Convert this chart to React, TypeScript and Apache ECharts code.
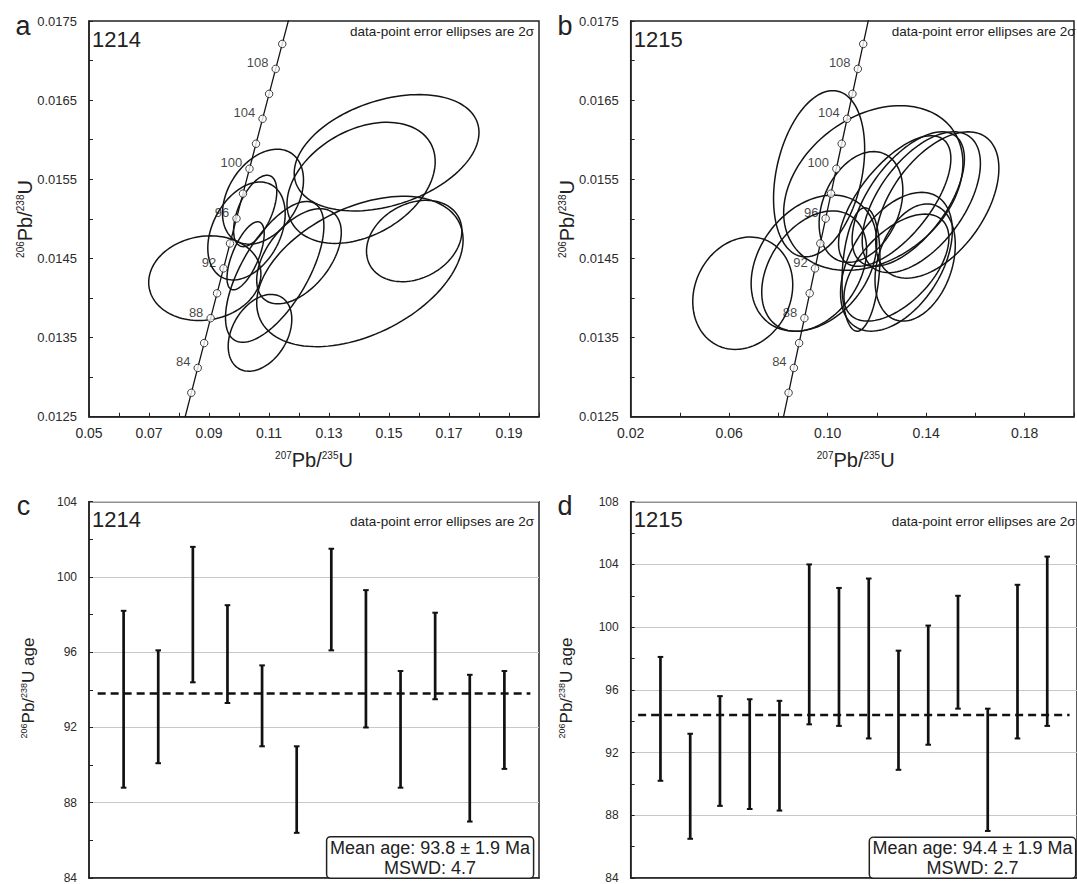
import React, { useEffect, useRef } from 'react';
import * as echarts from 'echarts';

const FONT = '"Liberation Sans", Arial, Helvetica, sans-serif';
const INK = '#141414';

// Concordia reference points (age in Ma, 207Pb/235U, 206Pb/238U)
const concordiaAges = [80, 82, 84, 86, 88, 90, 92, 94, 96, 98, 100, 102, 104, 106, 108, 110, 112];
const concordiaX = [0.081975, 0.084108, 0.086246, 0.088387, 0.090533, 0.092683, 0.094838, 0.096996, 0.099159, 0.101326, 0.103498, 0.105674, 0.107854, 0.110038, 0.112226, 0.114419, 0.116617];
const concordiaY = [0.012487, 0.012802, 0.013116, 0.013430, 0.013745, 0.014059, 0.014374, 0.014689, 0.015004, 0.015319, 0.015633, 0.015949, 0.016264, 0.016579, 0.016895, 0.017210, 0.017526];
const markerAges = [82, 84, 86, 88, 90, 92, 94, 96, 98, 100, 102, 104, 106, 108, 110];
const labeledAges = [84, 88, 92, 96, 100, 104, 108];

// Sample 1214 error ellipses (2 sigma): centre, half-widths, correlation
const e1214Cx = [0.1492, 0.1407, 0.1403, 0.1584, 0.1080, 0.1054, 0.1025, 0.0886, 0.1022, 0.1119, 0.1200, 0.1070];
const e1214Cy = [0.015835, 0.015455, 0.014335, 0.014720, 0.015280, 0.015100, 0.014847, 0.014250, 0.014533, 0.014330, 0.014527, 0.013560];
const e1214Sx = [0.0308, 0.0247, 0.0344, 0.0159, 0.0135, 0.0072, 0.0129, 0.0187, 0.0062, 0.0164, 0.0141, 0.0106];
const e1214Sy = [0.000735, 0.000765, 0.000950, 0.000514, 0.000600, 0.000451, 0.000619, 0.000535, 0.000430, 0.000890, 0.000601, 0.000485];
const e1214Rho = [0.35, 0.35, 0.42, 0.25, 0.35, 0.55, 0.35, 0.10, 0.65, 0.65, 0.50, 0.35];

// Sample 1215 error ellipses
const e1215Cx = [0.0655, 0.0944, 0.0945, 0.0965, 0.1185, 0.1135, 0.1445, 0.1380, 0.1327, 0.1272, 0.1279, 0.1279, 0.1355, 0.1135];
const e1215Cy = [0.014060, 0.014440, 0.014340, 0.015570, 0.015390, 0.015150, 0.015175, 0.015210, 0.015250, 0.015225, 0.014458, 0.014384, 0.014448, 0.014360];
const e1215Sx = [0.0203, 0.0255, 0.0213, 0.0185, 0.0364, 0.0170, 0.0250, 0.0240, 0.0228, 0.0228, 0.0227, 0.0213, 0.0163, 0.0077];
const e1215Sy = [0.000710, 0.000860, 0.000760, 0.001050, 0.001040, 0.000700, 0.000925, 0.000890, 0.000850, 0.000825, 0.000877, 0.000676, 0.000740, 0.000780];
const e1215Rho = [0.15, 0.30, 0.35, 0.30, 0.30, 0.30, 0.50, 0.55, 0.60, 0.65, 0.45, 0.55, 0.30, 0.20];

// 206Pb/238U ages with 2 sigma errors (low / high ends)
const age1214Low = [88.8, 90.1, 94.4, 93.3, 91.0, 86.4, 96.1, 92.0, 88.8, 93.5, 87.0, 89.8];
const age1214High = [98.2, 96.1, 101.6, 98.5, 95.3, 91.0, 101.5, 99.3, 95.0, 98.1, 94.8, 95.0];
const age1215Low = [90.2, 86.5, 88.6, 88.4, 88.3, 93.8, 93.7, 92.9, 90.9, 92.5, 94.8, 87.0, 92.9, 93.7];
const age1215High = [98.1, 93.2, 95.6, 95.4, 95.3, 104.0, 102.5, 103.1, 98.5, 100.1, 102.0, 94.8, 102.7, 104.5];
const mean1214 = 93.8;
const mean1215 = 94.4;

const PLOT_A = { left: 89, top: 21, width: 450, height: 395.7 };
const PLOT_B = { left: 630.7, top: 21, width: 450, height: 395.7 };
const PLOT_C = { left: 89, top: 501.7, width: 450, height: 380 };
const PLOT_D = { left: 630.7, top: 501.7, width: 450, height: 380 };

function ellipseRows(cx: number[], cy: number[], sx: number[], sy: number[], rho: number[]) {
  return cx.map((_, i) => [cx[i], cy[i], sx[i], sy[i], rho[i]]);
}

function ellipseRender(params: any, api: any) {
  const cx = api.value(0), cy = api.value(1), sx = api.value(2), sy = api.value(3), r = api.value(4);
  const k = Math.sqrt(1 - r * r);
  const pts: number[][] = [];
  const N = 120;
  for (let i = 0; i < N; i++) {
    const t = (i / N) * Math.PI * 2;
    const x = cx + sx * Math.cos(t);
    const y = cy + sy * (r * Math.cos(t) + k * Math.sin(t));
    pts.push(api.coord([x, y]));
  }
  return { type: 'polygon', shape: { points: pts }, style: { fill: 'none', stroke: INK, lineWidth: 1.5 } };
}

function errorBarRender(params: any, api: any) {
  const x = api.value(0);
  const lo = api.coord([x, api.value(1)]);
  const hi = api.coord([x, api.value(2)]);
  const cap = 2.8;
  return {
    type: 'group',
    children: [
      { type: 'line', shape: { x1: lo[0], y1: lo[1], x2: hi[0], y2: hi[1] }, style: { stroke: '#111', lineWidth: 2.7 } },
      { type: 'line', shape: { x1: hi[0] - cap, y1: hi[1], x2: hi[0] + cap, y2: hi[1] }, style: { stroke: '#111', lineWidth: 2 } },
      { type: 'line', shape: { x1: lo[0] - cap, y1: lo[1], x2: lo[0] + cap, y2: lo[1] }, style: { stroke: '#111', lineWidth: 2 } },
    ],
  };
}

const axisLineStyle = { color: '#222', width: 1.5 };
const tickStyle = { color: '#222', width: 1 };

function ratioXAxis(gridIndex: number, min: number, interval: number, showMod: number, showRem: number) {
  return {
    type: 'value', gridIndex, min, max: 0.2, interval,
    axisLine: { show: true, lineStyle: axisLineStyle },
    axisTick: { show: true, inside: true, length: 4, lineStyle: tickStyle },
    axisLabel: {
      fontSize: 14, fontFamily: FONT, color: '#2a2a2a', margin: 9,
      formatter: (v: number) => (Math.round(v * 100) % showMod === showRem ? v.toFixed(2) : ''),
    },
    splitLine: { show: false },
  };
}

function ratioYAxis(gridIndex: number) {
  return {
    type: 'value', gridIndex, min: 0.0125, max: 0.0175, interval: 0.0005,
    axisLine: { show: true, lineStyle: axisLineStyle },
    axisTick: { show: true, inside: true, length: 4, lineStyle: tickStyle },
    axisLabel: {
      fontSize: 13, fontFamily: FONT, color: '#2a2a2a', margin: 12,
      formatter: (v: number) => (Math.round(v * 10000) % 10 === 5 ? v.toFixed(4) : ''),
    },
    splitLine: { show: false },
  };
}

function ageYAxis(gridIndex: number, max: number) {
  return {
    type: 'value', gridIndex, min: 84, max, interval: 4,
    axisLine: { show: true, lineStyle: axisLineStyle },
    axisTick: { show: true, inside: true, length: 4, lineStyle: tickStyle },
    minorTick: { show: true, splitNumber: 2, length: 4, lineStyle: tickStyle },
    axisLabel: { fontSize: 12, fontFamily: FONT, color: '#2a2a2a', margin: 12 },
    splitLine: { show: true, lineStyle: { color: '#c8c8c8', width: 1 } },
  };
}

function indexXAxis(gridIndex: number, max: number) {
  return {
    type: 'value', gridIndex, min: 0, max,
    axisLine: { show: true, lineStyle: axisLineStyle },
    axisTick: { show: false }, axisLabel: { show: false }, splitLine: { show: false },
  };
}

function concordiaSeries(idx: number) {
  const line = concordiaAges.map((a, i) => [concordiaX[i], concordiaY[i]]);
  const marks = concordiaAges
    .map((a, i) => [concordiaX[i], concordiaY[i], a])
    .filter((d) => markerAges.includes(d[2]));
  return [
    {
      type: 'line', xAxisIndex: idx, yAxisIndex: idx, data: line, showSymbol: false, symbol: 'none',
      lineStyle: { color: INK, width: 1.3 }, z: 3, clip: true, silent: true,
    },
    {
      type: 'scatter', xAxisIndex: idx, yAxisIndex: idx, data: marks, symbol: 'circle', symbolSize: 7.5,
      itemStyle: { color: '#fff', borderColor: INK, borderWidth: 1 }, z: 4,
      label: {
        show: true, position: 'left', distance: 3, offset: [0, -6], fontSize: 13, fontFamily: FONT,
        color: '#111', textBorderWidth: 0,
        formatter: (p: any) => (labeledAges.includes(p.value[2]) ? String(p.value[2]) : ''),
      },
    },
  ];
}

function ellipseSeries(idx: number, rows: number[][]) {
  return {
    type: 'custom', xAxisIndex: idx, yAxisIndex: idx, data: rows, renderItem: ellipseRender,
    encode: { x: 0, y: 1 }, clip: true, z: 2, silent: true,
  };
}

function barSeries(idx: number, lo: number[], hi: number[]) {
  return {
    type: 'custom', xAxisIndex: idx, yAxisIndex: idx,
    data: lo.map((v, i) => [i + 1, v, hi[i]]), renderItem: errorBarRender,
    encode: { x: 0, y: [1, 2] }, z: 3, silent: true,
  };
}

function meanSeries(idx: number, n: number, mean: number) {
  return {
    type: 'line', xAxisIndex: idx, yAxisIndex: idx, data: [[0.25, mean], [n + 0.75, mean]],
    symbol: 'none', lineStyle: { color: '#111', width: 2.5, type: [8, 5] }, z: 4, silent: true,
  };
}

const supRich = (main: number, sup: number) => ({
  m: { fontSize: main, fontFamily: FONT, fill: '#222', verticalAlign: 'bottom' },
  s: { fontSize: sup, fontFamily: FONT, fill: '#222', verticalAlign: 'top' },
});

function txt(x: number, y: number, text: string, size: number, align: string) {
  return {
    type: 'text', x, y, z: 50,
    style: { text, fontSize: size, fontFamily: FONT, fill: '#222', align, verticalAlign: 'middle' },
  };
}

function richTxt(x: number, y: number, text: string, main: number, sup: number, rotation = 0) {
  return {
    type: 'text', x, y, rotation, z: 50,
    style: { text, rich: supRich(main, sup), align: 'center', verticalAlign: 'middle', fontFamily: FONT, fill: '#222' },
  };
}

function meanBox(left: number, top: number, w: number, h: number, l1: string, l2: string) {
  const cx = left + w / 2;
  return {
    type: 'group', z: 60,
    children: [
      { type: 'rect', shape: { x: left, y: top, width: w, height: h, r: 4 }, style: { fill: '#fff', stroke: '#222', lineWidth: 1.5 }, z: 60 },
      { type: 'text', x: cx, y: top + 11, z: 61, style: { text: l1, fontSize: 18, fontFamily: FONT, fill: '#222', align: 'center', verticalAlign: 'middle' } },
      { type: 'text', x: cx, y: top + 31, z: 61, style: { text: l2, fontSize: 18, fontFamily: FONT, fill: '#222', align: 'center', verticalAlign: 'middle' } },
    ],
  };
}

export default function App() {
  const ref = useRef<HTMLDivElement>(null);
  useEffect(() => {
    if (!ref.current) return;
    const chart = echarts.init(ref.current, null, { renderer: 'svg' });
    const gridBase = { show: true, borderColor: '#222', borderWidth: 1.5, backgroundColor: 'transparent', containLabel: false };
    const option: any = {
      animation: false,
      backgroundColor: '#fff',
      grid: [
        { ...gridBase, ...PLOT_A },
        { ...gridBase, ...PLOT_B },
        { ...gridBase, ...PLOT_C },
        { ...gridBase, ...PLOT_D },
      ],
      xAxis: [
        ratioXAxis(0, 0.05, 0.01, 2, 1),
        ratioXAxis(1, 0.02, 0.02, 4, 2),
        indexXAxis(2, age1214Low.length + 1),
        indexXAxis(3, age1215Low.length + 1),
      ],
      yAxis: [ratioYAxis(0), ratioYAxis(1), ageYAxis(2, 104), ageYAxis(3, 108)],
      series: [
        ellipseSeries(0, ellipseRows(e1214Cx, e1214Cy, e1214Sx, e1214Sy, e1214Rho)),
        ...concordiaSeries(0),
        ellipseSeries(1, ellipseRows(e1215Cx, e1215Cy, e1215Sx, e1215Sy, e1215Rho)),
        ...concordiaSeries(1),
        barSeries(2, age1214Low, age1214High),
        meanSeries(2, age1214Low.length, mean1214),
        barSeries(3, age1215Low, age1215High),
        meanSeries(3, age1215Low.length, mean1215),
      ],
      graphic: [
        txt(23, 25.6, 'a', 27, 'center'),
        txt(565, 25.6, 'b', 27, 'center'),
        txt(23.5, 506.3, 'c', 27, 'center'),
        txt(565, 506.3, 'd', 27, 'center'),
        txt(PLOT_A.left + 3, 39, '1214', 22, 'left'),
        txt(PLOT_B.left + 3, 39, '1215', 22, 'left'),
        txt(PLOT_C.left + 3, 519, '1214', 22, 'left'),
        txt(PLOT_D.left + 3, 519, '1215', 22, 'left'),
        txt(534, 31, 'data-point error ellipses are 2σ', 13.5, 'right'),
        txt(1075.7, 31, 'data-point error ellipses are 2σ', 13.5, 'right'),
        txt(534, 521, 'data-point error ellipses are 2σ', 13.5, 'right'),
        txt(1075.7, 521, 'data-point error ellipses are 2σ', 13.5, 'right'),
        richTxt(314, 460, '{s|207}{m|Pb/}{s|235}{m|U}', 20, 10),
        richTxt(855.7, 460, '{s|207}{m|Pb/}{s|235}{m|U}', 20, 10),
        richTxt(25, 219, '{s|206}{m|Pb/}{s|238}{m|U}', 20, 10, Math.PI / 2),
        richTxt(567, 219, '{s|206}{m|Pb/}{s|238}{m|U}', 20, 10, Math.PI / 2),
        richTxt(28, 688, '{s|206}{m|Pb/}{s|238}{m|U age}', 17, 9, Math.PI / 2),
        richTxt(566, 688, '{s|206}{m|Pb/}{s|238}{m|U age}', 17, 9, Math.PI / 2),
        meanBox(326.6, 836.7, 207, 41.6, `Mean age: ${mean1214.toFixed(1)} ± 1.9 Ma`, 'MSWD: 4.7'),
        meanBox(869.3, 837.3, 206.4, 41, `Mean age: ${mean1215.toFixed(1)} ± 1.9 Ma`, 'MSWD: 2.7'),
      ],
    };
    chart.setOption(option);
    return () => chart.dispose();
  }, []);
  return (
    <div
      ref={ref}
      style={{ position: 'absolute', left: 0, top: 0, width: 1077, height: 884, background: '#fff' }}
    />
  );
}
